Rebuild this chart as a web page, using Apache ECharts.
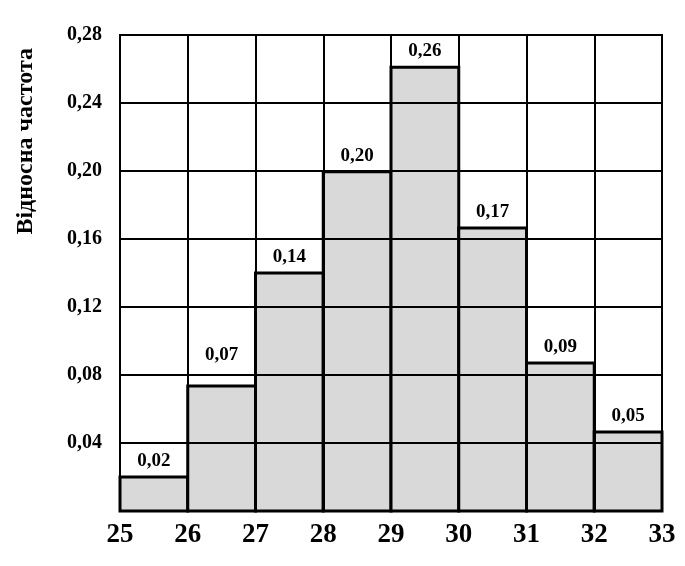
<!DOCTYPE html>
<html><head><meta charset="utf-8">
<script src="https://cdn.jsdelivr.net/npm/echarts@6/dist/echarts.min.js"></script>
<style>html,body{margin:0;padding:0;background:#fff}#c{width:685px;height:566px}</style>
</head><body><div id="c"></div>
<script>
const binStarts = [25, 26, 27, 28, 29, 30, 31, 32];
const binWidth = 1;
const freqValues = [0.020, 0.0735, 0.140, 0.1995, 0.261, 0.1665, 0.087, 0.0465];
const freqLabels = ['0,02', '0,07', '0,14', '0,20', '0,26', '0,17', '0,09', '0,05'];
const yTicks = [0, 0.04, 0.08, 0.12, 0.16, 0.20, 0.24, 0.28];
const yTitle = 'Відносна частота';

const FONT = '"Liberation Serif", "Times New Roman", serif';
const data = binStarts.map((s, i) => [s, s + binWidth, freqValues[i]]);

const chart = echarts.init(document.getElementById('c'), null, {renderer: 'canvas'});
chart.setOption({
  animation: false,
  grid: {left: 120, right: 23, top: 35, bottom: 55, show: true, borderColor: '#000', borderWidth: 2, backgroundColor: 'transparent'},
  xAxis: {
    type: 'value', min: 25, max: 33, interval: 1, z: 5,
    axisLine: {show: true, lineStyle: {color: '#000', width: 2}},
    axisTick: {show: false},
    splitLine: {show: true, lineStyle: {color: '#000', width: 2}},
    axisLabel: {color: '#000', fontFamily: FONT, fontWeight: 'bold', fontSize: 27, margin: 11, showMinLabel: true, showMaxLabel: true}
  },
  yAxis: {
    type: 'value', min: 0, max: 0.28, interval: 0.04, z: 5,
    axisLine: {show: true, lineStyle: {color: '#000', width: 2}},
    axisTick: {show: false},
    splitLine: {show: true, lineStyle: {color: '#000', width: 2}},
    axisLabel: {
      color: '#000', fontFamily: FONT, fontWeight: 'bold', fontSize: 20, margin: 18,
      formatter: v => v === 0 ? '' : v.toFixed(2).replace('.', ',')
    }
  },
  graphic: [{
    type: 'text', left: 14, top: 48, rotation: Math.PI / 2,
    style: {text: yTitle, fill: '#000', font: 'bold 24px ' + FONT}
  }],
  series: [{
    type: 'custom', z: 2,
    data: data,
    encode: {x: [0, 1], y: 2},
    renderItem: function (params, api) {
      const p0 = api.coord([api.value(0), api.value(2)]);
      const p1 = api.coord([api.value(1), 0]);
      const label = freqLabels[params.dataIndex];
      // place label above bar, lifting it above a grid line if it would overlap one
      let ly = p0[1] - 16;
      yTicks.forEach(t => {
        const gy = api.coord([25, t])[1];
        if (Math.abs(gy - ly) < 10 && gy < p0[1]) ly = gy - 20;
      });
      return {
        type: 'group',
        children: [{
          type: 'rect',
          shape: {x: p0[0], y: p0[1], width: p1[0] - p0[0], height: p1[1] - p0[1]},
          style: {fill: '#d9d9d9', stroke: '#000', lineWidth: 3}
        }, {
          type: 'text', z2: 10,
          x: (p0[0] + p1[0]) / 2, y: ly,
          style: {text: label, textAlign: 'center', textVerticalAlign: 'middle', fill: '#000', font: 'bold 19px ' + FONT}
        }]
      };
    }
  }]
});
</script></body></html>
